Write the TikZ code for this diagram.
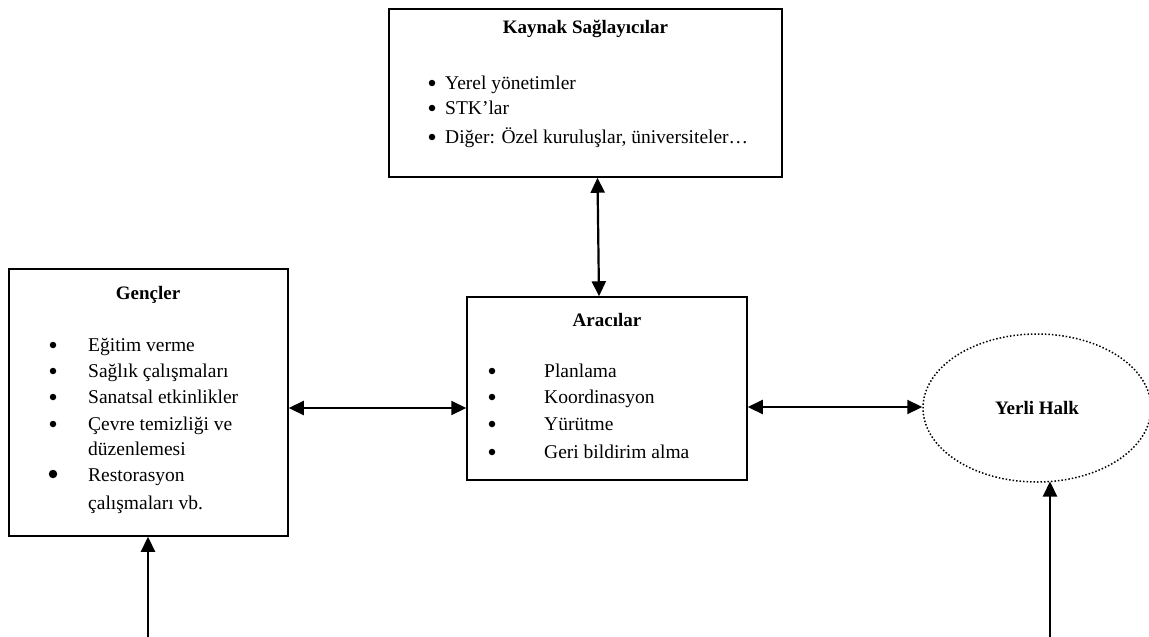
\documentclass[tikz,border=0pt]{standalone}
\usepackage{fontspec}
\setmainfont{Liberation Serif}
\usetikzlibrary{arrows.meta,shapes.geometric}
\begin{document}
\begin{tikzpicture}[x=1pt,y=-1pt,
  box/.style={draw,line width=1.5pt,inner sep=0pt},
  conn/.style={line width=2.2pt,{Triangle[length=15pt,width=14pt]}-{Triangle[length=15pt,width=14pt]}},
  upar/.style={line width=2.2pt,-{Triangle[length=15pt,width=14pt]}},
  ttl/.style={font=\fontsize{19}{22}\selectfont\bfseries,inner sep=0pt,anchor=base},
  itm/.style={font=\fontsize{19.5}{22}\selectfont,anchor=base west,inner sep=0pt},
  bul/.style={circle,fill,inner sep=0pt,minimum size=6.5pt},
  bulbig/.style={circle,fill,inner sep=0pt,minimum size=8.5pt}]
\useasboundingbox (0,0) rectangle (1149,637);
\clip (0,0) rectangle (1149,637);
% Kaynak Saglayicilar
\node[box,minimum width=393pt,minimum height=168pt] (kay) at (585.5,93) {};
\node[ttl] (kayt) at (585.5,34) {Kaynak Sağlayıcılar};
\node[bul] (kb1) at (432,83) {};
\node[itm] (k1) at (445,89) {Yerel yönetimler};
\node[bul] (kb2) at (432,108) {};
\node[itm] (k2) at (445,114) {STK’lar};
\node[bul] (kb3) at (432,137) {};
\node[itm] (k3) at (445,143) {Diğer: Özel kuruluşlar, üniversiteler…};
% Gencler
\node[box,minimum width=279pt,minimum height=267pt] (gen) at (148.5,402.5) {};
\node[ttl] (gent) at (148,299) {Gençler};
\node[bul] (gb1) at (53,345) {};
\node[itm] (g1) at (88,351) {Eğitim verme};
\node[bul] (gb2) at (53,371) {};
\node[itm] (g2) at (88,377) {Sağlık çalışmaları};
\node[bul] (gb3) at (53,397) {};
\node[itm] (g3) at (88,403) {Sanatsal etkinlikler};
\node[bul] (gb4) at (53,424) {};
\node[itm] (g4) at (88,430) {Çevre temizliği ve};
\node[itm] (g5) at (88,455) {düzenlemesi};
\node[bulbig] (gb6) at (53,474) {};
\node[itm] (g6) at (88,481) {Restorasyon};
\node[itm] (g7) at (88,509) {çalışmaları vb.};
% Aracilar
\node[box,minimum width=280pt,minimum height=183pt] (ara) at (607,388.5) {};
\node[ttl] (arat) at (607,326) {Aracılar};
\node[bul] (ab1) at (492,371) {};
\node[itm] (a1) at (544,377) {Planlama};
\node[bul] (ab2) at (492,397) {};
\node[itm] (a2) at (544,403) {Koordinasyon};
\node[bul] (ab3) at (492,424) {};
\node[itm] (a3) at (544,430) {Yürütme};
\node[bul] (ab4) at (492,452) {};
\node[itm] (a4) at (544,458) {Geri bildirim alma};
% Yerli Halk
\node[ellipse,draw,dotted,line width=1.5pt,minimum width=228pt,minimum height=148pt,inner sep=0pt] (yer) at (1037,408) {};
\node[ttl] (yert) at (1037,414) {Yerli Halk};
% connectors
\coordinate (g0) at (148,637);
\coordinate (y0) at (1050,637);
\draw[conn] ([xshift=12pt]kay.south) -- ([xshift=-8pt]ara.north);
\draw[conn] (gen.east |- 0,408) -- (ara.west |- 0,408);
\draw[conn] (ara.east |- 0,407) -- (yer.west |- 0,407);
\draw[upar] (g0) -- (gen.south -| g0);
\draw[upar] (y0) -- (1050,481.5);
\end{tikzpicture}
\end{document}
